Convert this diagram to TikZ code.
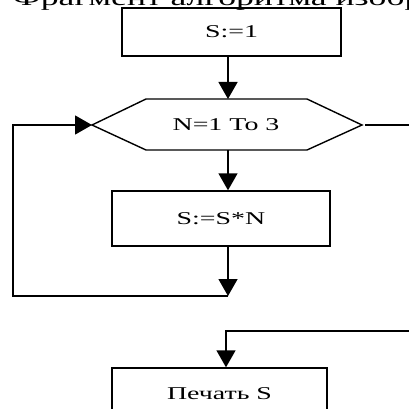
\documentclass[tikz,border=0pt]{standalone}
\usepackage{fontspec}
\setmainfont{Liberation Serif}
\newfontfamily\widefont[FakeStretch=1.55]{Liberation Serif}
\usetikzlibrary{arrows.meta}
\begin{document}
\begin{tikzpicture}[x=1pt,y=-1pt,line width=1.4pt,
  blk/.style={draw,rectangle,inner sep=0pt,font=\widefont\fontsize{18}{20}\selectfont},
  lbl/.style={font=\widefont\fontsize{18}{20}\selectfont},
  arr/.style={-{Triangle[length=17pt,width=19pt]}}]
\clip (0,0) rectangle (409,409);
\node[anchor=base west,inner sep=0pt,font=\widefont\fontsize{23}{25}\selectfont] (title) at (12,5.5) {Фрагмент алгоритма изображен};
% blocks
\node[blk,minimum width=219pt,minimum height=48pt] (s1) at (231.5,32) {S:=1};
\node[blk,minimum width=218pt,minimum height=55pt] (s2) at (221,218.5) {S:=S*N};
\node[blk,minimum width=215pt,minimum height=52pt] (s3) at (219.5,394) {Печать S};
% hexagon
\coordinate (hl) at (92,125);
\coordinate (htl) at (146,99);
\coordinate (htr) at (307,99);
\coordinate (hr) at (362,125);
\coordinate (hbr) at (307,150);
\coordinate (hbl) at (146,150);
\draw (hl) -- (htl) -- (htr) -- (hr) -- (hbr) -- (hbl) -- cycle;
\node[lbl] (hex) at (226,125) {N=1 To 3};
\coordinate (ht) at (228,99);
\coordinate (hb) at (228,150);
\coordinate (lb) at (228,296);
\coordinate (lt) at (13,125);
\coordinate (rx1) at (415,125);
\coordinate (rx2) at (415,331);
\coordinate (p3) at (226,331);
% connectors
\draw[arr] (s1.south -| ht) -- (ht);
\draw[arr] (hb) -- (s2.north -| hb);
\draw[arr] (s2.south -| hb) -- (lb);
\draw[arr] (lb) -| (lt) -- (hl);
\draw ([xshift=3pt]hr) -- (rx1);
\draw[arr] (rx2) -- (p3) -- (s3.north -| p3);
\end{tikzpicture}
\end{document}
